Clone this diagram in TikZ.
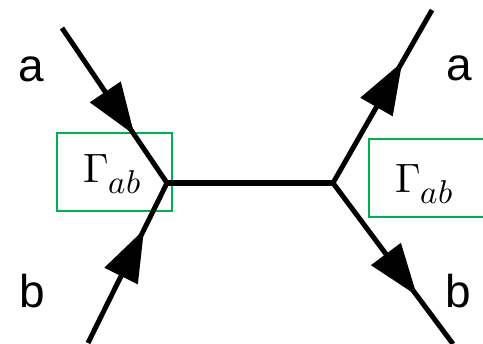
\documentclass[tikz,border=0pt]{standalone}
\usepackage{fontspec}
\usepackage{unicode-math}
\setmathfont{Latin Modern Math}
\setsansfont{Liberation Sans}
\usetikzlibrary{arrows.meta,decorations.markings}
\definecolor{boxgreen}{RGB}{0,176,80}
\newcommand{\gammaab}{{\fontsize{41}{41}\selectfont$\Gamma$}\raisebox{-10.5pt}{\fontsize{33}{33}\selectfont$ab$}}
\tikzset{
  leg/.style={line width=5pt, black,
    postaction={decorate, decoration={markings,
      mark=at position #1 with {\arrow{Triangle[length=52pt,width=36pt]}}}}},
  prop/.style={line width=5.6pt, black},
  lbl/.style={font=\sffamily\fontsize{46}{50}\selectfont, inner sep=0pt},
  gbox/.style={draw=boxgreen, line width=1.4pt, inner sep=0pt},
  gam/.style={inner sep=0pt, anchor=base west}
}
\begin{document}
\begin{tikzpicture}[x=1pt,y=-1pt]
\useasboundingbox (0,0) rectangle (483,344);
% vertices and leg ends
\coordinate (vL) at (167,183);
\coordinate (vR) at (333,183);
\coordinate (aL) at (62,28);
\coordinate (bL) at (88,343);
\coordinate (aR) at (432,10);
\coordinate (bR) at (453,344);
% green boxes
\node[gbox, minimum width=115pt, minimum height=78pt] (boxL) at (114.5,172) {};
\node[gbox, minimum width=116pt, minimum height=78pt] (boxR) at (427,178) {};
% lines
\draw[leg=0.69] (aL) -- (vL);
\draw[leg=0.71] (bL) -- (vL);
\draw[prop] (vL) -- (vR);
\draw[leg=0.70] (vR) -- (aR);
\draw[leg=0.70] (vR) -- (bR);
% labels
\node[gam] (gL) at (83,183) {\gammaab};
\node[gam] (gR) at (395,193) {\gammaab};
\node[lbl, anchor=base] (la) at (31,82) {a};
\node[lbl, anchor=base] (lb) at (32,308) {b};
\node[lbl, anchor=base] (ra) at (459,81) {a};
\node[lbl, anchor=base] (rb) at (458,308) {b};
\end{tikzpicture}
\end{document}
